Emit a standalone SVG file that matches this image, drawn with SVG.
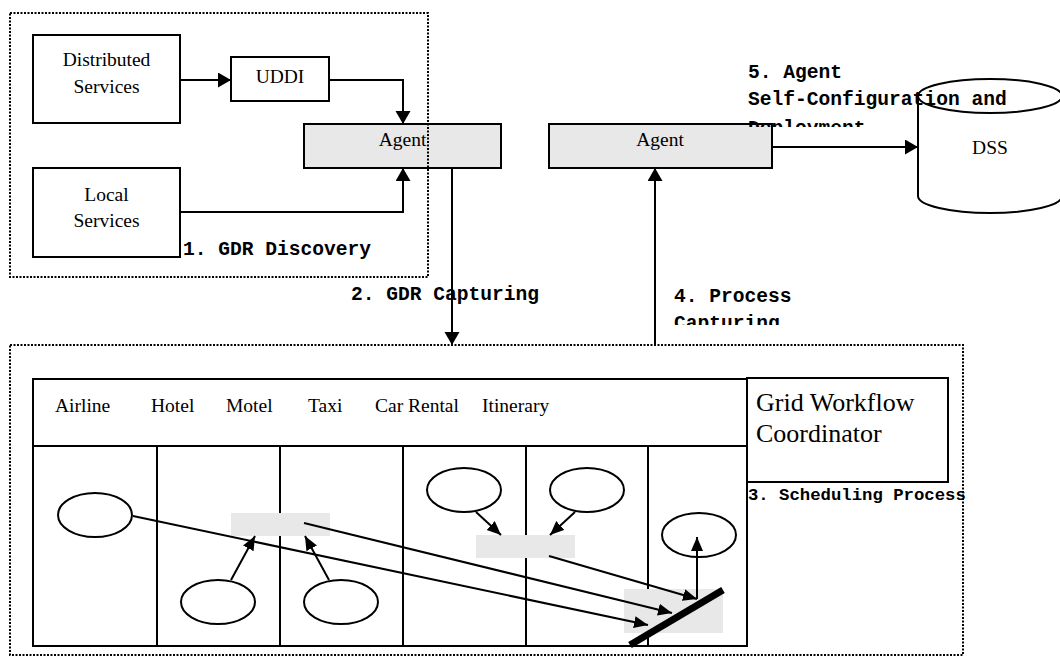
<svg xmlns="http://www.w3.org/2000/svg" width="1060" height="657" viewBox="0 0 1060 657">
<style>
.box{fill:#fff;stroke:#000;stroke-width:2}
.agent{fill:#e8e8e8;stroke:#000;stroke-width:2}
.dot{fill:none;stroke:#000;stroke-width:2;stroke-dasharray:2 1.5}
.ln{fill:none;stroke:#000;stroke-width:2}
.ell{fill:#fff;stroke:#000;stroke-width:2}
.gray{fill:#e8e8e8;stroke:none}
.serif{font-family:"Liberation Serif","Times New Roman",serif;font-size:19.5px;fill:#000}
.mid{text-anchor:middle}
.big{font-size:26px}
.mono{font-family:"Liberation Mono","Courier New",monospace;font-weight:bold;font-size:19.6px;fill:#000}
.mono2{font-size:17.3px}
.arr{fill:none;stroke:#000;stroke-width:2;marker-end:url(#ah)}
.arr2{fill:none;stroke:#000;stroke-width:2;marker-end:url(#ah2)}
</style>
<defs>
<marker id="ah" markerUnits="userSpaceOnUse" markerWidth="14" markerHeight="16" refX="13" refY="7.5" orient="auto">
<path d="M0,0 L13,7.5 L0,15 z" fill="#000"/>
</marker>
<marker id="ah2" markerUnits="userSpaceOnUse" markerWidth="15" markerHeight="13" refX="14" refY="6" orient="auto">
<path d="M0,0 L14,6 L0,12 z" fill="#000"/>
</marker>
<clipPath id="clip5"><rect x="740" y="50" width="320" height="77"/></clipPath>
<clipPath id="clip4"><rect x="660" y="280" width="200" height="45"/></clipPath>
</defs>

<g id="distributed-services">
<rect class="box" x="33" y="35" width="147" height="88"/>
<text class="serif mid" x="106.5" y="66">Distributed</text>
<text class="serif mid" x="106.5" y="93">Services</text>
</g>
<g id="uddi">
<rect class="box" x="231" y="57" width="98" height="44"/>
<text class="serif mid" x="280" y="83">UDDI</text>
</g>
<g id="local-services">
<rect class="box" x="33" y="168" width="147" height="89"/>
<text class="serif mid" x="106.5" y="201">Local</text>
<text class="serif mid" x="106.5" y="227">Services</text>
</g>
<g id="agent1">
<rect class="agent" x="304" y="124" width="197" height="44"/>
<text class="serif mid" x="402.5" y="146">Agent</text>
</g>
<g id="agent2">
<rect class="agent" x="549" y="124" width="223" height="44"/>
<text class="serif mid" x="660" y="146">Agent</text>
</g>
<g id="dss">
<path class="box" d="M918,96 V196 A72,17 0 0 0 1062,196 V96"/>
<ellipse class="ell" cx="990" cy="96" rx="72" ry="17"/>
<text class="serif mid" x="990" y="154">DSS</text>
</g>
<g id="gdr-discovery-region">
<rect class="dot" x="10" y="13" width="418" height="264"/>
<text class="mono" x="183" y="255">1. GDR Discovery</text>
</g>

<g id="workflow-region">
<rect class="dot" x="10" y="345" width="953" height="310"/>
</g>
<g id="swimlane-table">
<rect class="box" x="33" y="379" width="714" height="267"/>
<line class="ln" x1="33" y1="446" x2="747" y2="446"/>
<line class="ln" x1="157" y1="446" x2="157" y2="646"/>
<line class="ln" x1="280" y1="446" x2="280" y2="646"/>
<line class="ln" x1="403" y1="446" x2="403" y2="646"/>
<line class="ln" x1="526" y1="446" x2="526" y2="646"/>
<line class="ln" x1="648" y1="446" x2="648" y2="646"/>
<text class="serif" x="55" y="412">Airline</text>
<text class="serif" x="151" y="412">Hotel</text>
<text class="serif" x="226" y="412">Motel</text>
<text class="serif" x="308" y="412">Taxi</text>
<text class="serif" x="375" y="412">Car Rental</text>
<text class="serif" x="482" y="412">Itinerary</text>
</g>
<g id="grid-workflow-coordinator">
<rect class="box" x="747" y="378" width="201" height="104"/>
<text class="serif big" x="756" y="411">Grid Workflow</text>
<text class="serif big" x="756" y="442">Coordinator</text>
<text class="mono mono2" x="748" y="500">3. Scheduling Process</text>
</g>
<g id="join-1"><rect class="gray" x="231" y="513" width="99" height="23"/></g>
<g id="join-2"><rect class="gray" x="476" y="535" width="99" height="23"/></g>
<g id="join-3"><rect class="gray" x="624" y="589" width="99" height="44"/></g>
<g id="task-airline"><ellipse class="ell" cx="95" cy="515" rx="37" ry="22"/></g>
<g id="task-hotel"><ellipse class="ell" cx="218" cy="602" rx="37" ry="22"/></g>
<g id="task-taxi"><ellipse class="ell" cx="341" cy="602" rx="37" ry="22"/></g>
<g id="task-car"><ellipse class="ell" cx="464" cy="490" rx="37" ry="22"/></g>
<g id="task-itinerary"><ellipse class="ell" cx="587" cy="490" rx="37" ry="22"/></g>
<g id="task-final"><ellipse class="ell" cx="699" cy="535" rx="37" ry="22"/></g>

<g id="connectors">
<line class="arr" x1="180" y1="80" x2="231" y2="80"/>
<path class="arr" d="M329,80 H403 V124"/>
<path class="arr" d="M180,212 H403 V168"/>
<line class="arr" x1="772" y1="147" x2="918" y2="147"/>
<line class="arr" x1="452" y1="168" x2="452" y2="345"/>
<line class="arr" x1="655" y1="345" x2="655" y2="168"/>
<line class="arr2" x1="231" y1="580" x2="255" y2="536"/>
<line class="arr2" x1="329" y1="580" x2="305" y2="536"/>
<line class="arr2" x1="476" y1="512" x2="501" y2="535"/>
<line class="arr2" x1="575" y1="512" x2="550" y2="535"/>
<line class="arr2" x1="133" y1="516" x2="648" y2="625"/>
<line class="arr2" x1="304" y1="523" x2="672" y2="613"/>
<line class="arr2" x1="549" y1="556" x2="697" y2="599"/>
<line class="arr2" x1="697" y1="599" x2="697" y2="537"/>
<line x1="630" y1="645" x2="723" y2="590" stroke="#000" stroke-width="7"/>
</g>

<g id="labels">
<text class="mono" x="351" y="300">2. GDR Capturing</text>
<g clip-path="url(#clip4)">
<text class="mono" x="674" y="302">4. Process</text>
<text class="mono" x="674" y="329">Capturing</text>
</g>
<g clip-path="url(#clip5)">
<text class="mono" x="748" y="78">5. Agent</text>
<text class="mono" x="748" y="105">Self-Configuration and</text>
<text class="mono" x="748" y="134">Deployment</text>
</g>
</g>
</svg>
